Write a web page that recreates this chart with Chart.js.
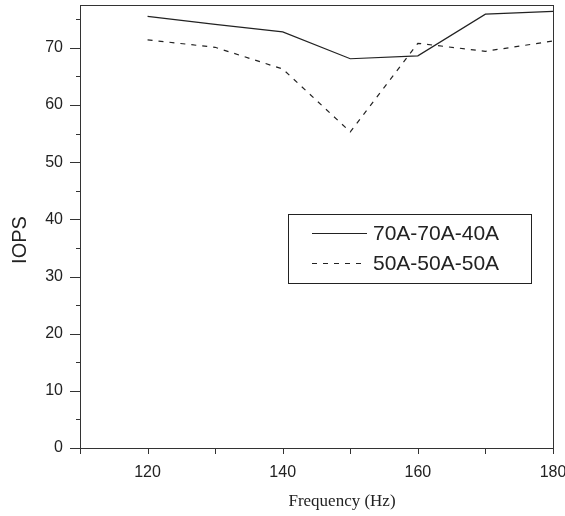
<!DOCTYPE html>
<html>
<head>
<meta charset="utf-8">
<script src="https://cdn.jsdelivr.net/npm/chart.js@4"></script>
<style>
    html, body { margin: 0; padding: 0; background: #fff; }
    #wrap { width: 565px; height: 516px; }
</style>
</head>
<body>
<div id="wrap"><canvas id="iops_chart"></canvas></div>
<script>
// data
const freq = [120, 130, 140, 150, 160, 170, 180];
const iops_70_70_40 = [75.5, 74.1, 72.8, 68.1, 68.6, 75.9, 76.4];
const iops_50_50_50 = [71.4, 70.1, 66.3, 55.3, 70.8, 69.4, 71.2];
const seriesLabels = ['70A-70A-40A', '50A-50A-50A'];

const xTicks = [120, 140, 160, 180];
const xMinor = [110, 130, 150, 170];
const yTicks = [0, 10, 20, 30, 40, 50, 60, 70];
const yMinor = [5, 15, 25, 35, 45, 55, 65, 75];

const lineColor = '#222';
const axisColor = '#333';

function toPoints(xs, ys) {
    return xs.map((x, i) => ({ x: x, y: ys[i] }));
}

// frame, tick marks, axis titles and the boxed legend
const framePlugin = {
    id: 'frame',
    afterDraw(chart) {
        let ctx = chart.ctx;
        let area = chart.chartArea;
        let xs = chart.scales.x;
        let ys = chart.scales.y;
        ctx.save();
        ctx.strokeStyle = axisColor;
        ctx.lineWidth = 1;
        ctx.strokeRect(Math.round(area.left) + 0.5, Math.round(area.top) + 0.5,
            Math.round(area.right - area.left), Math.round(area.bottom - area.top));

        ctx.beginPath();
        yTicks.forEach(v => {
            let y = Math.round(ys.getPixelForValue(v)) + 0.5;
            ctx.moveTo(area.left - 10, y); ctx.lineTo(area.left, y);
        });
        yMinor.forEach(v => {
            let y = Math.round(ys.getPixelForValue(v)) + 0.5;
            ctx.moveTo(area.left - 4, y); ctx.lineTo(area.left, y);
        });
        xTicks.concat(xMinor).forEach(v => {
            let x = Math.round(xs.getPixelForValue(v)) + 0.5;
            ctx.moveTo(x, area.bottom); ctx.lineTo(x, area.bottom + 6);
        });
        ctx.stroke();

        // axis titles
        ctx.fillStyle = '#222';
        ctx.textAlign = 'center';
        ctx.textBaseline = 'middle';
        ctx.font = '17px "Liberation Serif", "Times New Roman", serif';
        ctx.fillText('Frequency (Hz)', 342, 502);
        ctx.save();
        ctx.translate(20, 240);
        ctx.rotate(-Math.PI / 2);
        ctx.font = '20px "Liberation Sans", Arial, sans-serif';
        ctx.fillText('IOPS', 0, 0);
        ctx.restore();

        // legend box
        let bx = 288, by = 214, bw = 243, bh = 69;
        ctx.fillStyle = '#fff';
        ctx.fillRect(bx, by, bw, bh);
        ctx.strokeStyle = '#222';
        ctx.strokeRect(bx + 0.5, by + 0.5, bw, bh);
        ctx.font = '21px "Liberation Sans", Arial, sans-serif';
        ctx.textAlign = 'left';
        chart.data.datasets.forEach((ds, i) => {
            let cy = 233 + i * 30;
            ctx.beginPath();
            ctx.setLineDash(ds.borderDash || []);
            ctx.strokeStyle = ds.borderColor;
            ctx.moveTo(312, cy + 0.5);
            ctx.lineTo(367, cy + 0.5);
            ctx.stroke();
            ctx.setLineDash([]);
            ctx.fillStyle = '#222';
            ctx.fillText(ds.label, 373, cy + 1);
        });
        ctx.restore();
    }
};

function noPadding(axis) {
    axis.paddingTop = 0;
    axis.paddingBottom = 0;
    axis.paddingLeft = 0;
    axis.paddingRight = 0;
}

var ctx = document.getElementById('iops_chart');
let lineChart = new Chart(ctx, {
    type: 'line',
    data: {
        datasets: [{
            label: seriesLabels[0],
            data: toPoints(freq, iops_70_70_40),
            borderColor: lineColor,
            borderWidth: 1.2,
            pointRadius: 0,
            tension: 0
        }, {
            label: seriesLabels[1],
            data: toPoints(freq, iops_50_50_50),
            borderColor: lineColor,
            borderWidth: 1.2,
            borderDash: [5, 6],
            pointRadius: 0,
            tension: 0
        }]
    },
    options: {
        responsive: true,
        maintainAspectRatio: false,
        animation: false,
        layout: { padding: { top: 5, right: 12, left: 0, bottom: 0 } },
        plugins: {
            legend: { display: false },
            tooltip: { enabled: false }
        },
        scales: {
            x: {
                type: 'linear',
                min: 110,
                max: 180,
                afterBuildTicks: axis => { axis.ticks = xTicks.map(v => ({ value: v })); },
                afterFit: axis => { axis.height = 68; noPadding(axis); },
                grid: { display: false, drawTicks: false },
                border: { display: false },
                ticks: {
                    autoSkip: false,
                    maxRotation: 0,
                    padding: 15,
                    color: '#222',
                    font: { family: '"Liberation Sans", Arial, sans-serif', size: 16 }
                }
            },
            y: {
                min: 0,
                max: 77.5,
                afterBuildTicks: axis => { axis.ticks = yTicks.map(v => ({ value: v })); },
                afterFit: axis => { axis.width = 80; noPadding(axis); },
                grid: { display: false, drawTicks: false },
                border: { display: false },
                ticks: {
                    padding: 17,
                    color: '#222',
                    font: { family: '"Liberation Sans", Arial, sans-serif', size: 16 }
                }
            }
        }
    },
    plugins: [framePlugin]
});
window.myChart = lineChart;
</script>
</body>
</html>
